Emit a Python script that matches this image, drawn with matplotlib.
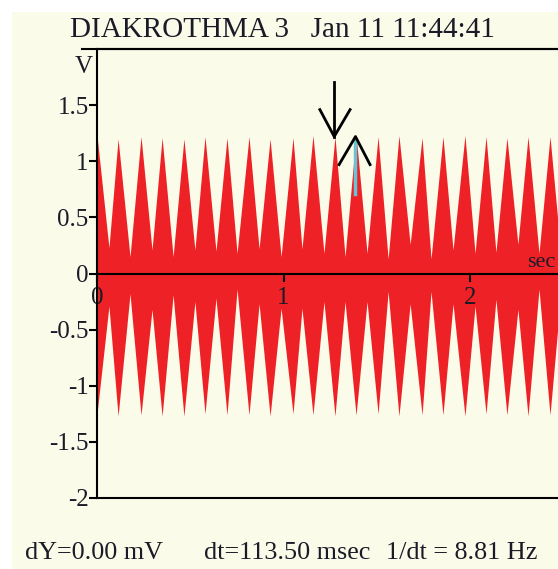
import numpy as np
import matplotlib
matplotlib.use("Agg")
import matplotlib.pyplot as plt
from matplotlib.lines import Line2D
from matplotlib.patches import Rectangle

plt.rcParams['font.family'] = ['Liberation Serif', 'DejaVu Serif']

# envelope of the beating signal (sec, V)
peak_t = [0.000, 0.113, 0.236, 0.349, 0.466, 0.579, 0.697, 0.815, 0.928, 1.051, 1.158,
          1.276, 1.389, 1.507, 1.619, 1.743, 1.855, 1.973, 2.086, 2.198, 2.311, 2.429]
upper_peak = [1.23, 1.20, 1.22, 1.21, 1.20, 1.22, 1.21, 1.22, 1.20, 1.21, 1.23,
              1.22, 1.24, 1.22, 1.23, 1.21, 1.22, 1.23, 1.22, 1.21, 1.22, 1.22]
lower_peak = [-1.25, -1.27, -1.26, -1.27, -1.27, -1.25, -1.26, -1.26, -1.27, -1.25, -1.26,
              -1.27, -1.26, -1.25, -1.27, -1.26, -1.26, -1.27, -1.25, -1.26, -1.27, -1.26]
trough_t = [0.064, 0.177, 0.295, 0.408, 0.525, 0.638, 0.751, 0.869, 0.987, 1.099, 1.217,
            1.330, 1.448, 1.561, 1.679, 1.791, 1.909, 2.027, 2.139, 2.257, 2.370, 2.486]
upper_trough = [0.23, 0.15, 0.21, 0.15, 0.21, 0.20, 0.18, 0.22, 0.15, 0.22, 0.18,
                0.15, 0.18, 0.13, 0.26, 0.13, 0.21, 0.18, 0.19, 0.26, 0.18, 0.20]
lower_trough = [-0.29, -0.18, -0.32, -0.19, -0.25, -0.22, -0.14, -0.27, -0.31, -0.31, -0.25,
                -0.25, -0.25, -0.16, -0.27, -0.16, -0.27, -0.29, -0.23, -0.32, -0.14, -0.20]

# cursors
cursor1 = 1.272
cursor2 = 1.386

title = "DIAKROTHMA 3   Jan 11 11:44:41"
readout = ["dY=0.00 mV", "dt=113.50 msec", "1/dt = 8.81 Hz"]

cream = '#fbfbe9'
red = '#ee2226'
ink = '#1b1b28'

W, H = 558, 569
fig = plt.figure(figsize=(W / 100, H / 100), dpi=100)
fig.patch.set_facecolor('white')
fig.patches.append(Rectangle((12 / W, 0), 1, 1 - 12 / H, transform=fig.transFigure,
                             facecolor=cream, edgecolor='none', zorder=-5))

ax = fig.add_axes([97 / W, 1 - 498 / H, 1 - 97 / W, 449 / H])
ax.set_facecolor('none')

t_env = np.column_stack([peak_t, trough_t]).ravel()
up_env = np.column_stack([upper_peak, upper_trough]).ravel()
lo_env = np.column_stack([lower_peak, lower_trough]).ravel()
ax.fill_between(t_env, lo_env, up_env, color=red, linewidth=0, zorder=1)

ax.set_xlim(0, (W - 97) / 186.5)
ax.set_ylim(-2, 2)

# x axis sits at zero, frame lines at top and bottom
ax.spines['bottom'].set_position(('data', 0))
ax.spines['right'].set_visible(False)
for s in ['bottom', 'left', 'top']:
    ax.spines[s].set_linewidth(1.5)
    ax.spines[s].set_color('black')
ax.axhline(-2, color='black', lw=1.5, clip_on=False)
fig.add_artist(Line2D([82 / W, 1], [1 - 49 / H, 1 - 49 / H], color='black', lw=1.5))

ax.set_xticks([0, 1, 2])
ax.set_xticklabels(['0', '1', '2'])
ax.set_yticks([1.5, 1, 0.5, 0, -0.5, -1, -1.5, -2])
ax.set_yticklabels(['1.5', '1', '0.5', '0', '-0.5', '-1', '-1.5', '-2'])
ax.tick_params(axis='x', direction='out', length=6, width=1.5, pad=4, labelsize=18, labelcolor=ink)
ax.tick_params(axis='y', direction='out', length=6, width=1.5, pad=0, labelsize=18, labelcolor=ink)

ax.text(-0.01, 1.84, 'V', transform=ax.get_yaxis_transform(), ha='right', va='center',
        fontsize=18, color=ink)
ax.text((527 - 97) / 186.5, 0.10, 'sec', ha='left', va='center', fontsize=16, color=ink,
        clip_on=False)

# cursor arrows
ax.plot([cursor1, cursor1], [1.71, 1.22], color='black', lw=2, zorder=4)
ax.plot([cursor1 - 0.077, cursor1, cursor1 + 0.085], [1.46, 1.22, 1.46], color='black', lw=2, zorder=4)
ax.plot([cursor2, cursor2], [1.20, 0.71], color='#68c4d4', lw=2.5, zorder=4)
ax.plot([cursor2 - 0.088, cursor2, cursor2 + 0.078], [0.97, 1.22, 0.97], color='black', lw=2, zorder=4)

fig.text(70 / W, 1 - 30 / H, title, ha='left', va='center', fontsize=21, color=ink)
for x, s in zip([25, 204, 386], readout):
    fig.text(x / W, 1 - 553 / H, s, ha='left', va='center', fontsize=18.8, color=ink)

fig.savefig('out.png', dpi=100, facecolor=fig.get_facecolor())
